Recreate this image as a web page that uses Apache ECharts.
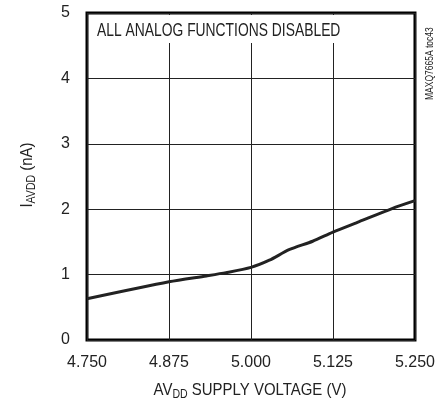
<!DOCTYPE html>
<html><head><meta charset="utf-8">
<script src="https://cdn.jsdelivr.net/npm/echarts@6/dist/echarts.min.js"></script>
<style>html,body{margin:0;padding:0;background:#fff}#c{width:438px;height:402px}</style>
</head><body><div id="c"></div>
<script>
const xValues = [4.75, 4.875, 4.932, 4.962, 5.0, 5.028, 5.058, 5.094, 5.125, 5.165, 5.215, 5.25];
const yValues = [0.63, 0.89, 0.98, 1.03, 1.11, 1.22, 1.38, 1.51, 1.65, 1.81, 2.01, 2.13];
const xTicks = ['4.750', '4.875', '5.000', '5.125', '5.250'];
const annotation = 'ALL ANALOG FUNCTIONS DISABLED';
const sideNote = 'MAXQ7665A toc43';

const FONT = "'Liberation Sans', Arial, sans-serif";
const C = '#222';
const chart = echarts.init(document.getElementById('c'));
const richName = {n: {fontFamily: FONT, fontSize: 17, fill: C, color: C}, s: {fontFamily: FONT, fontSize: 12, fill: C, color: C, padding: [9, 0, 0, 0]}};
chart.setOption({
  animation: false,
  grid: {left: 87, right: 22, top: 13, bottom: 62, show: true, borderColor: '#000', borderWidth: 3, backgroundColor: 'transparent'},
  xAxis: {
    type: 'value', min: 4.75, max: 5.25, interval: 0.125,
    axisLine: {show: false}, axisTick: {show: false},
    splitLine: {show: true, lineStyle: {color: C, width: 1}},
    axisLabel: {fontFamily: FONT, fontSize: 16, color: C, margin: 15,
      formatter: v => { const i = Math.round((v - 4.75) / 0.125); return xTicks[i] || ''; }}
  },
  yAxis: {
    type: 'value', min: 0, max: 5, interval: 1,
    axisLine: {show: false}, axisTick: {show: false},
    splitLine: {show: true, lineStyle: {color: C, width: 1}},
    axisLabel: {fontFamily: FONT, fontSize: 16, color: C, margin: 17}
  },
  graphic: [
    {type: 'rect', shape: {x: 89, y: 15, width: 256, height: 28}, style: {fill: '#fff'}, z: 10},
    {type: 'text', x: 97, y: 31, scaleX: 0.77, z: 11,
      style: {text: annotation, font: "18px " + FONT, fill: C, verticalAlign: 'middle', align: 'left'}},
    {type: 'text', x: 430, y: 100, rotation: Math.PI / 2, scaleX: 0.85, z: 11,
      style: {text: sideNote, font: "10px " + FONT, fill: C, align: 'left', verticalAlign: 'middle'}},
    {type: 'text', x: 250, y: 390, scaleX: 0.88, z: 11,
      style: {text: '{n|AV}{s|DD}{n| SUPPLY VOLTAGE (V)}', rich: richName, align: 'center', verticalAlign: 'middle'}},
    {type: 'text', x: 27, y: 175, rotation: Math.PI / 2, scaleX: 0.88, z: 11,
      style: {text: '{n|I}{s|AVDD}{n| (nA)}', rich: richName, align: 'center', verticalAlign: 'middle'}}
  ],
  series: [{
    type: 'line', data: xValues.map((x, i) => [x, yValues[i]]),
    showSymbol: false, smooth: 0.25, lineStyle: {color: C, width: 3}
  }]
});
</script></body></html>
